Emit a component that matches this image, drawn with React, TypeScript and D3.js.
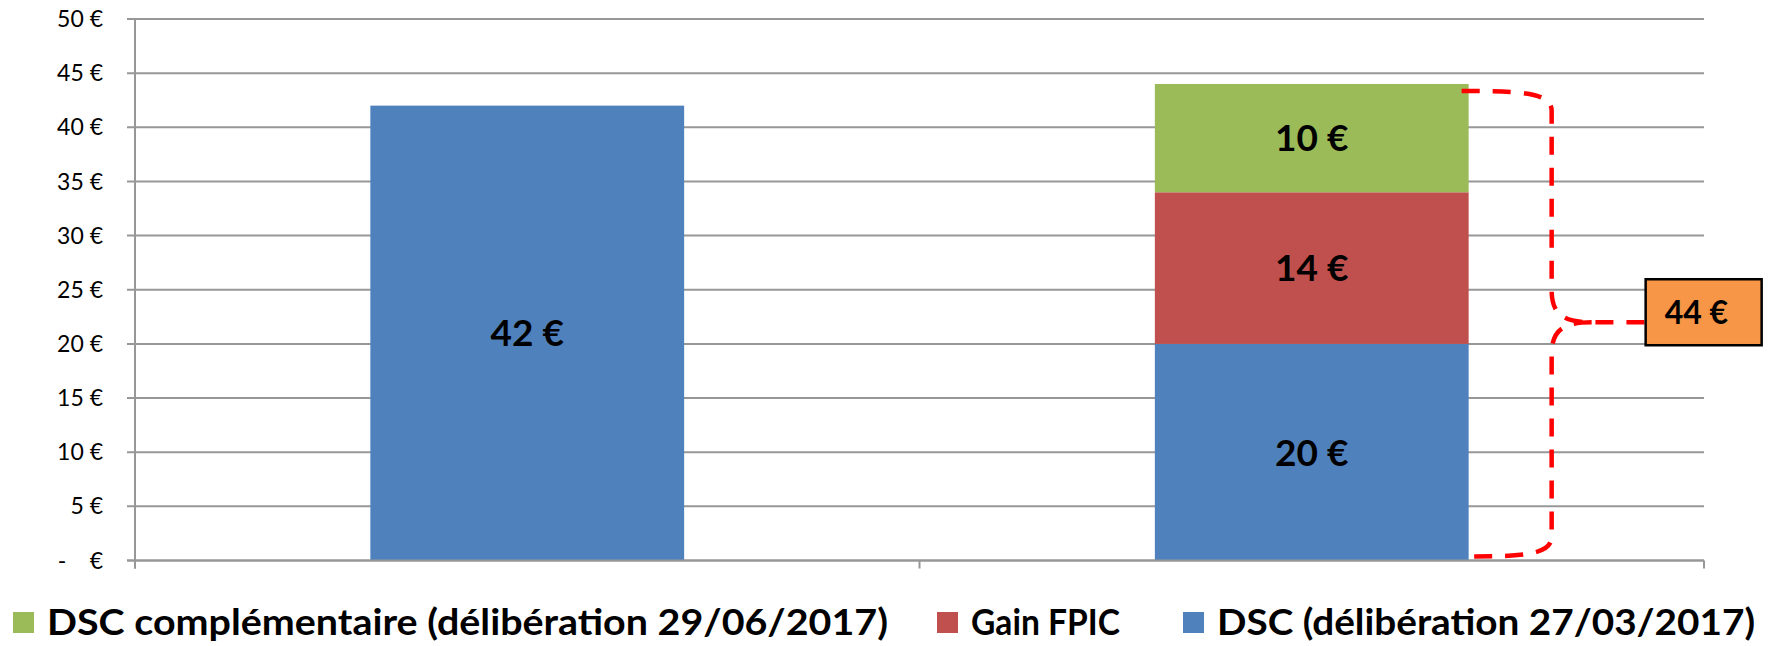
import React, { useEffect, useRef } from 'react';
import * as d3 from 'd3';

// two situations compared (no category labels shown on the axis)
const categories = ['avant', 'après'];
const dscValues = [42, 20];
const fpicValues = [0, 14];
const dscCompValues = [0, 10];
const seriesNames = [
  'DSC (délibération 27/03/2017)',
  'Gain FPIC',
  'DSC complémentaire (délibération 29/06/2017)',
];
const seriesColors = ['#4F81BD', '#C0504D', '#9BBB59'];
const yTicks = [0, 5, 10, 15, 20, 25, 30, 35, 40, 45, 50];
const totalLabel = '44 €';

// legend is listed in reverse stacking order, like Excel does
const legendOrder = [2, 1, 0];
const legendX = [13, 937, 1183];
const legendWidths = [841, 149, 538];

const W = 1770;
const H = 646;
const FONT = 'Lato, "Noto Sans", sans-serif';

export default function App() {
  const svgRef = useRef<SVGSVGElement>(null);

  useEffect(() => {
    document.body.style.margin = '0';
    document.body.style.overflow = 'hidden';
    if (!svgRef.current) return;

    const svg = d3.select(svgRef.current);
    svg.selectAll('*').remove();

    const left = 135;
    const right = 1704;
    const top = 19;
    const bottom = 560.5;

    const x = d3.scaleBand<string>()
      .domain(categories)
      .range([left, right])
      .paddingInner(0.6)
      .paddingOuter(0.3);
    const y = d3.scaleLinear().domain([0, 50]).range([bottom, top]);

    // gridlines (including the tick stubs left of the axis)
    svg.append('g')
      .selectAll('line')
      .data(yTicks)
      .enter()
      .append('line')
      .attr('x1', left - 8)
      .attr('x2', right)
      .attr('y1', (d) => y(d))
      .attr('y2', (d) => y(d))
      .attr('stroke', '#979797')
      .attr('stroke-width', 2);

    // y labels
    svg.append('g')
      .selectAll('text')
      .data(yTicks)
      .enter()
      .append('text')
      .attr('x', 103)
      .attr('y', (d) => y(d))
      .attr('dy', '0.35em')
      .attr('text-anchor', 'end')
      .style('font-family', FONT)
      .style('font-size', '23px')
      .style('fill', '#000')
      .text((d) => (d === 0 ? '-\u2002\u00a0\u00a0€' : `${d} €`));

    // stacked data
    const rows = categories.map((c, i) => ({
      cat: c,
      s0: dscValues[i],
      s1: fpicValues[i],
      s2: dscCompValues[i],
    }));
    const stack = d3.stack<any>().keys(['s0', 's1', 's2'])(rows);

    const layers = svg.append('g')
      .selectAll('g')
      .data(stack)
      .enter()
      .append('g')
      .attr('fill', (_d, i) => seriesColors[i]);

    layers.selectAll('rect')
      .data((d) => d.map((v) => ({ v, cat: v.data.cat })))
      .enter()
      .append('rect')
      .filter((d) => d.v[1] - d.v[0] > 0)
      .attr('x', (d) => x(d.cat)!)
      .attr('width', x.bandwidth())
      .attr('y', (d) => y(d.v[1]))
      .attr('height', (d) => y(d.v[0]) - y(d.v[1]));

    // value labels
    stack.forEach((layer) => {
      layer.forEach((v) => {
        const val = v[1] - v[0];
        if (val <= 0) return;
        svg.append('text')
          .attr('x', x(v.data.cat)! + x.bandwidth() / 2)
          .attr('y', y((v[0] + v[1]) / 2))
          .attr('dy', '0.36em')
          .attr('text-anchor', 'middle')
          .style('font-family', FONT)
          .style('font-weight', 'bold')
          .style('font-size', '37px')
          .style('fill', '#000')
          .text(`${val} €`);
      });
    });

    // axes
    svg.append('line')
      .attr('x1', left).attr('x2', left)
      .attr('y1', top).attr('y2', bottom + 8)
      .attr('stroke', '#979797').attr('stroke-width', 2);
    svg.append('line')
      .attr('x1', left - 8).attr('x2', right)
      .attr('y1', bottom).attr('y2', bottom)
      .attr('stroke', '#979797').attr('stroke-width', 2);
    const xTicks = [left, left + x.step(), right];
    svg.append('g')
      .selectAll('line')
      .data(xTicks)
      .enter()
      .append('line')
      .attr('x1', (d) => d).attr('x2', (d) => d)
      .attr('y1', bottom).attr('y2', bottom + 8)
      .attr('stroke', '#979797').attr('stroke-width', 2);

    // brace around the second stack, pointing at the total box
    const last = categories[categories.length - 1];
    const total = dscValues[1] + fpicValues[1] + dscCompValues[1];
    const bx = x(last)! + x.bandwidth();
    const bTop = y(total) + 7;
    const bBot = y(0) - 4;
    const mid = y(total / 2);
    const vx = bx + 83;
    const boxX = bx + 177;

    const p = d3.path();
    p.moveTo(bx - 7, bTop);
    p.bezierCurveTo(bx + 55, bTop, vx, bTop + 2, vx, bTop + 20);
    p.lineTo(vx, mid - 32);
    p.bezierCurveTo(vx, mid - 6, vx + 14, mid, vx + 40, mid);
    p.lineTo(boxX, mid);
    p.moveTo(vx + 40, mid);
    p.bezierCurveTo(vx + 14, mid, vx, mid + 6, vx, mid + 32);
    p.lineTo(vx, bBot - 20);
    p.bezierCurveTo(vx, bBot - 2, bx + 55, bBot, bx + 2, bBot);

    svg.append('path')
      .attr('d', p.toString())
      .attr('fill', 'none')
      .attr('stroke', '#FF0000')
      .attr('stroke-width', 4.5)
      .attr('stroke-dasharray', '18 13');

    svg.append('rect')
      .attr('x', boxX)
      .attr('y', mid - 43)
      .attr('width', 116)
      .attr('height', 66)
      .attr('fill', '#F79646')
      .attr('stroke', '#000')
      .attr('stroke-width', 2.5);
    svg.append('text')
      .attr('x', boxX + 19)
      .attr('y', mid - 10)
      .attr('dy', '0.36em')
      .style('font-family', FONT)
      .style('font-weight', 'bold')
      .style('font-size', '32px')
      .style('fill', '#000')
      .text(totalLabel);

    // legend
    const legY = 622;
    const leg = svg.append('g')
      .selectAll('g')
      .data(legendOrder)
      .enter()
      .append('g')
      .attr('transform', (_d, i) => `translate(${legendX[i]},${legY})`);
    leg.append('rect')
      .attr('x', 0)
      .attr('y', -10)
      .attr('width', 21)
      .attr('height', 21)
      .attr('fill', (d) => seriesColors[d]);
    leg.append('text')
      .attr('x', 34)
      .attr('y', 0)
      .attr('dy', '0.36em')
      .attr('textLength', (_d, i) => legendWidths[i])
      .attr('lengthAdjust', 'spacingAndGlyphs')
      .style('font-family', FONT)
      .style('font-weight', 'bold')
      .style('font-size', '36px')
      .style('fill', '#000')
      .text((d) => seriesNames[d]);
  }, []);

  return (
    <svg
      ref={svgRef}
      width={W}
      height={H}
      style={{ position: 'absolute', left: 0, top: 0, background: '#fff' }}
    />
  );
}
